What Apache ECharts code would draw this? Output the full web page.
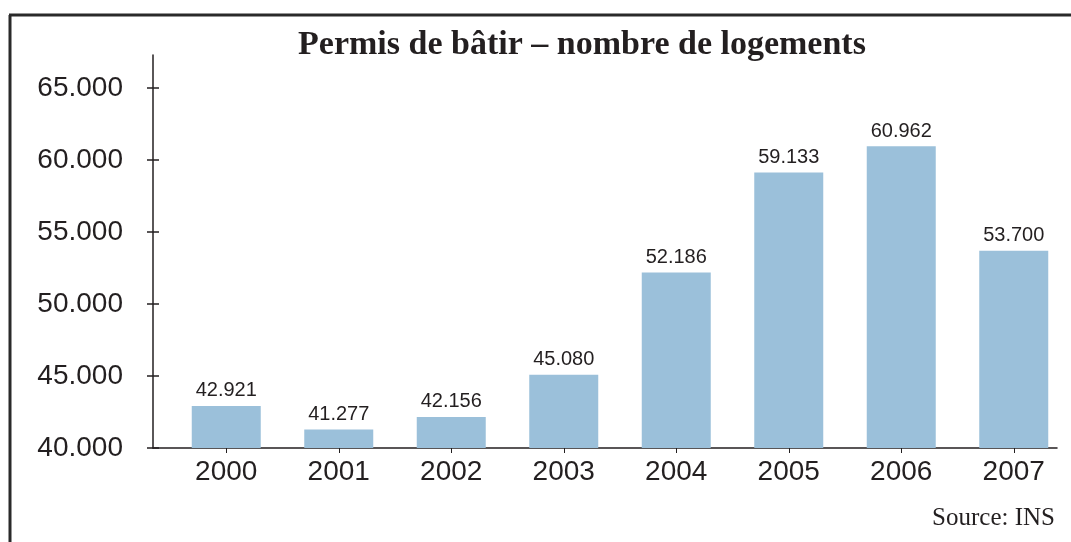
<!DOCTYPE html>
<html>
<head>
<meta charset="utf-8">
<script src="https://cdn.jsdelivr.net/npm/echarts@6/dist/echarts.min.js"></script>
<style>
  html, body { margin: 0; padding: 0; background: #fff; }
  #chart { width: 1071px; height: 542px; }
</style>
</head>
<body>
<div id="chart"></div>
<script>
// data
const years = ['2000', '2001', '2002', '2003', '2004', '2005', '2006', '2007']
const logements = [42921, 41277, 42156, 45080, 52186, 59133, 60962, 53700]
const yTicks = [40000, 45000, 50000, 55000, 60000, 65000]

function fmt(v) {
  return Math.floor(v / 1000) + '.' + String(v % 1000).padStart(3, '0')
}

const ink = '#231f20'
const sans = 'Liberation Sans'

const chart = echarts.init(document.getElementById('chart'))
chart.setOption({
  animation: false,
  title: {
    text: 'Permis de bâtir – nombre de logements',
    left: 577,
    textAlign: 'center',
    top: 23,
    textStyle: { fontFamily: 'Liberation Serif', fontWeight: 'bold', fontSize: 34, color: ink }
  },
  graphic: [
    // frame
    { type: 'line', shape: { x1: 9, y1: 15, x2: 1071, y2: 15 }, style: { stroke: '#2a2a2a', lineWidth: 3 } },
    { type: 'line', shape: { x1: 10, y1: 15, x2: 10, y2: 542 }, style: { stroke: '#2a2a2a', lineWidth: 3 } },
    {
      type: 'text', right: 16, top: 506,
      style: { text: 'Source: INS', fontFamily: 'Liberation Serif', fontSize: 25, fill: ink }
    }
  ],
  grid: [
    { left: 170, right: 1, top: 55, bottom: 94 },
    { left: 153, right: 14, top: 55, bottom: 94 }
  ],
  xAxis: [
    {
      type: 'category', gridIndex: 0, data: years,
      axisLine: { show: false },
      axisTick: { show: true, alignWithLabel: true, inside: false, length: 5, lineStyle: { color: ink } },
      axisLabel: { fontFamily: sans, fontSize: 28, color: ink, margin: 10 }
    },
    {
      type: 'category', gridIndex: 0, data: years, position: 'bottom',
      axisLine: { show: false },
      axisTick: { show: true, alignWithLabel: true, inside: true, length: 5, lineStyle: { color: ink } },
      axisLabel: { show: false }
    },
    {
      type: 'value', gridIndex: 1, min: 0, max: 1,
      axisLine: { show: true, lineStyle: { color: ink, width: 1.5 } },
      axisTick: { show: false }, axisLabel: { show: false }, splitLine: { show: false }
    }
  ],
  yAxis: [
    {
      type: 'value', gridIndex: 0, min: 40000, max: 67300,
      show: false
    },
    {
      type: 'value', gridIndex: 1, min: 40000, max: 67300,
      axisLine: { show: true, lineStyle: { color: ink, width: 1.5 } },
      axisTick: { show: true, inside: false, length: 6, customValues: yTicks, lineStyle: { color: ink, width: 1.5 } },
      axisLabel: { fontFamily: sans, fontSize: 28, color: ink, margin: 30, customValues: yTicks, formatter: fmt },
      splitLine: { show: false }
    },
    {
      type: 'value', gridIndex: 1, min: 40000, max: 67300, position: 'left',
      axisLine: { show: false },
      axisTick: { show: true, inside: true, length: 6, customValues: yTicks, lineStyle: { color: ink, width: 1.5 } },
      axisLabel: { show: false },
      splitLine: { show: false }
    }
  ],
  series: [
    {
      type: 'bar', xAxisIndex: 0, yAxisIndex: 0,
      data: logements,
      barWidth: 69,
      itemStyle: { color: '#9bc0da' },
      label: {
        show: true, position: 'top', distance: 5,
        fontFamily: sans, fontSize: 20, color: ink,
        formatter: p => fmt(p.value)
      }
    }
  ]
})
</script>
</body>
</html>
